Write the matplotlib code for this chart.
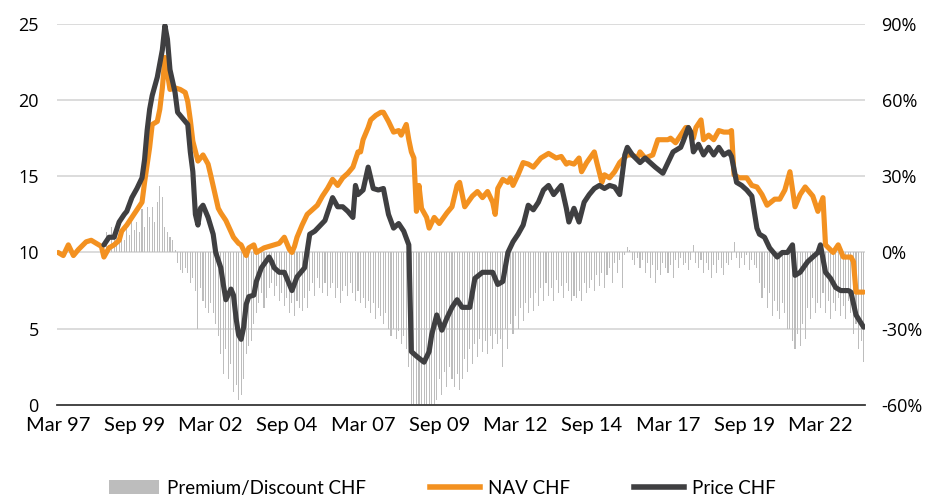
import matplotlib
matplotlib.use("Agg")
import matplotlib.pyplot as plt
from matplotlib.patches import Patch
from matplotlib.lines import Line2D
import numpy as np

# ---------------- data (month offsets from Mar 1997) ----------------
nav_month = [0, 2, 4, 6, 8, 11, 13, 15, 17, 18, 20, 22, 24, 25, 27, 29, 31, 33, 34, 36,
             37, 39, 40, 41, 42, 44, 46, 48, 50, 51, 52, 53, 55, 57, 59, 60, 63, 64, 66, 69,
             71, 72, 74, 75, 77, 78, 80, 81, 83, 85, 87, 89, 91, 92, 93, 94, 96, 98, 100, 102,
             104, 106, 108, 110, 112, 114, 116, 118, 119, 120, 122, 123, 125, 127, 128, 130, 132, 134, 135, 137,
             138, 139, 140, 141, 142, 143, 145, 146, 148, 150, 153, 155, 157, 158, 160, 163, 165, 167, 169, 171,
             172, 173, 175, 177, 178, 179, 181, 183, 185, 187, 190, 192, 193, 196, 198, 200, 201, 203, 205, 206,
             208, 211, 212, 214, 215, 217, 219, 221, 224, 226, 228, 229, 231, 234, 236, 238, 240, 241, 243, 245,
             247, 248, 250, 251, 253, 254, 256, 258, 260, 262, 264, 265, 266, 268, 270, 271, 273, 275, 277, 279,
             282, 284, 286, 288, 290, 292, 294, 297, 299, 301, 302, 305, 307, 309, 312, 313, 314, 317]
nav_chf = [10.0, 9.8, 10.5, 9.8, 10.2, 10.7, 10.8, 10.6, 10.4, 9.7, 10.3, 10.5, 10.8, 11.4, 11.8, 12.3, 12.8, 13.3, 14.6, 16.9,
           18.4, 18.6, 19.4, 20.8, 22.8, 20.7, 20.8, 20.7, 20.5, 19.9, 18.7, 17.3, 16.0, 16.4, 15.8, 15.1, 12.9, 12.6, 12.1, 11.0,
           10.6, 10.5, 9.8, 10.3, 10.5, 10.0, 10.2, 10.3, 10.4, 10.5, 10.6, 11.0, 10.2, 10.0, 10.4, 11.0, 11.8, 12.5, 12.8, 13.1,
           13.7, 14.2, 14.8, 14.4, 14.9, 15.2, 15.6, 16.6, 16.6, 17.4, 18.2, 18.7, 19.0, 19.2, 19.2, 18.6, 17.9, 18.0, 17.7, 18.4,
           17.4, 16.6, 16.2, 12.7, 14.4, 12.9, 12.3, 11.6, 12.3, 11.9, 12.6, 13.0, 14.4, 14.6, 13.0, 13.7, 14.0, 13.6, 14.0, 13.3,
           12.5, 14.2, 14.8, 14.6, 14.9, 14.4, 15.1, 15.9, 15.8, 15.6, 16.2, 16.4, 16.5, 16.2, 16.3, 15.8, 15.9, 15.8, 16.2, 15.3,
           15.9, 16.6, 15.9, 14.6, 15.1, 14.9, 15.3, 15.9, 16.4, 16.4, 16.2, 16.6, 16.2, 16.4, 17.4, 17.4, 17.4, 17.5, 17.2, 17.7,
           18.2, 18.2, 17.5, 18.2, 18.7, 17.4, 17.7, 17.4, 18.0, 17.9, 17.9, 18.0, 15.1, 14.9, 14.9, 14.9, 14.4, 14.3, 13.8, 13.1,
           13.5, 13.5, 14.1, 15.3, 13.0, 13.8, 14.3, 13.7, 12.7, 13.6, 10.5, 10.0, 10.5, 9.7, 9.7, 9.4, 7.4, 7.4]

price_month = [18, 20, 22, 24, 26, 27, 29, 31, 33, 34, 35, 36, 37, 39, 41, 42, 43, 44, 46, 47,
               49, 51, 52, 53, 54, 55, 56, 57, 58, 59, 61, 62, 64, 65, 66, 68, 69, 70, 71, 72,
               73, 74, 75, 77, 78, 80, 83, 84, 85, 87, 89, 92, 94, 97, 99, 101, 105, 107, 108, 110,
               112, 114, 116, 117, 118, 120, 122, 124, 126, 128, 130, 132, 134, 136, 138, 139, 141, 144, 146, 147,
               149, 151, 153, 155, 157, 159, 162, 164, 167, 169, 171, 173, 175, 177, 179, 181, 183, 185, 187, 189,
               191, 193, 195, 196, 198, 200, 201, 203, 205, 207, 209, 211, 213, 215, 217, 219, 221, 223, 224, 226,
               229, 231, 233, 235, 238, 240, 242, 245, 246, 248, 249, 250, 252, 254, 256, 258, 260, 262, 264, 265,
               267, 269, 271, 273, 275, 276, 278, 280, 283, 285, 287, 289, 290, 292, 295, 297, 299, 300, 302, 304,
               306, 308, 311, 312, 314, 317]
price_chf = [10.5, 11.0, 11.0, 12.0, 12.5, 12.7, 13.6, 14.2, 14.9, 16.1, 18.0, 19.4, 20.3, 21.5, 23.3, 24.9, 24.0, 22.0, 20.5, 19.2,
             18.8, 18.4, 16.6, 15.3, 12.5, 11.8, 12.9, 13.1, 12.7, 12.3, 11.2, 10.0, 9.0, 7.9, 6.9, 7.6, 7.2, 5.7, 4.6, 4.3,
             5.1, 6.6, 7.1, 7.2, 8.1, 9.0, 9.7, 9.4, 9.0, 8.7, 8.7, 7.5, 8.4, 9.0, 11.2, 11.4, 12.1, 13.1, 13.6, 13.0,
             13.0, 12.7, 12.3, 14.4, 13.8, 14.1, 15.6, 14.2, 14.1, 14.2, 12.5, 11.6, 11.9, 11.4, 10.5, 3.5, 3.2, 2.8, 3.5, 4.6,
             5.9, 4.9, 5.7, 6.4, 6.9, 6.4, 6.4, 8.3, 8.7, 8.7, 8.7, 7.9, 8.1, 10.0, 10.7, 11.2, 11.8, 13.1, 12.8, 13.3,
             14.1, 14.4, 13.8, 14.0, 14.4, 12.9, 12.0, 12.9, 12.0, 13.3, 13.8, 14.2, 14.4, 14.2, 14.4, 14.3, 13.8, 16.4, 16.9, 16.4,
             15.9, 16.2, 15.9, 15.6, 15.2, 15.9, 16.6, 16.9, 17.3, 18.2, 17.9, 16.6, 17.1, 16.4, 16.9, 16.4, 16.9, 16.4, 16.6, 16.3,
             14.6, 14.4, 14.1, 13.7, 11.6, 11.2, 11.0, 10.3, 9.7, 10.0, 10.0, 10.5, 8.5, 8.7, 9.4, 9.7, 10.0, 10.5, 8.7, 8.3,
             7.7, 7.5, 7.5, 7.4, 5.9, 5.1]

prem_start_month = 18  # premium/discount series starts Sep 1998, monthly
premium_pct = [4, 8, 3, 10, 6, 9,
               6, 9, 5, 11, 7, 15, 9, 12, 8, 17, 10, 18,
               14, 18, 12, 20, 26, 22, 10, 8, 6, 5, 1, -4,
               -7, -8, -6, -8, -12, -10, -15, -30, -14, -19, -22, -24,
               -20, -24, -28, -33, -40, -48, -38, -50, -44, -55, -52, -58,
               -56, -50, -40, -37, -35, -28, -24, -20, -16, -22, -18, -14,
               -12, -17, -13, -19, -16, -21, -18, -24, -20, -25, -19, -22,
               -23, -18, -22, -15, -12, -17, -10, -14, -16, -12, -17, -14,
               -12, -18, -14, -20, -15, -13, -17, -12, -16, -19, -15, -20,
               -18, -22, -19, -24, -20, -26, -22, -25, -28, -24, -30, -33,
               -30, -34, -31, -36, -33, -38, -45, -60, -60, -60, -60, -60,
               -60, -60, -60, -60, -60, -58, -50, -56, -47, -53, -45, -50,
               -53, -48, -54, -50, -42, -47, -38, -44, -36, -41, -34, -39,
               -35, -40, -33, -38, -32, -36, -34, -45, -30, -38, -28, -32,
               -25, -30, -22, -27, -20, -24, -18, -23, -16, -21, -14, -19,
               -12, -17, -14, -19, -11, -16, -13, -18, -12, -15, -19, -17,
               -18, -15, -19, -12, -16, -14, -11, -15, -9, -13, -8, -14,
               -9, -6, -12, -4, -8, -3, -14, -1, 2, 1, -3, -5,
               -2, -6, -3, -8, -4, -10, -5, -12, -7, -9, -4, -6,
               -8, -5, -10, -3, -6, -2, -5, -4, -7, -3, 3, -4,
               -6, -3, -8, -4, -7, -10, -5, -8, -3, -6, -9, -4,
               -5, -3, 4, -2, -6, -2, -5, -1, -7, -3, -5, -6,
               -12, -18, -14, -22, -16, -25, -19, -23, -26, -20, -24, -30,
               -30, -35, -38, -32, -37, -28, -34, -22, -26, -18, -24, -20,
               -22, -16, -24, -19, -26, -20, -23, -18, -25, -21, -26, -19,
               -24, -32, -28, -38, -35, -43]

tick_months = [0, 30, 60, 90, 120, 150, 180, 210, 240, 270, 300]
tick_labels = ["Mar 97", "Sep 99", "Mar 02", "Sep 04", "Mar 07", "Sep 09",
               "Mar 12", "Sep 14", "Mar 17", "Sep 19", "Mar 22"]
left_ticks = [0, 5, 10, 15, 20, 25]
right_ticks = [-60, -30, 0, 30, 60, 90]

# ---------------- styling ----------------
ORANGE = "#F39120"
DARK = "#3F3F41"
BARGRAY = "#BDBDBD"
GRID = "#D9D9D9"
narrow = ["Lato", "DejaVu Sans"]
plain = ["Open Sans", "DejaVu Sans"]

fig = plt.figure(figsize=(9.33, 4.98), dpi=100)
ax2 = fig.add_axes([0.061, 0.187, 0.866, 0.765])   # bars / right axis (behind)
ax = ax2.twinx()                                     # lines / left axis (front)
ax.yaxis.tick_left()
ax2.yaxis.tick_right()

prem_x = np.arange(prem_start_month, prem_start_month + len(premium_pct))
ax2.bar(prem_x, premium_pct, width=0.42, color=BARGRAY, linewidth=0, zorder=2)
ax2.set_ylim(-60, 90)
ax2.set_yticks(right_ticks)
ax2.set_yticklabels([f"{t}%" for t in right_ticks])
for t in right_ticks[1:]:
    ax2.axhline(t, color=GRID, lw=1.3, zorder=1)

ax.plot(nav_month, nav_chf, color=ORANGE, lw=3.7, solid_joinstyle="round",
        solid_capstyle="round", zorder=3)
ax.plot(price_month, price_chf, color=DARK, lw=3.7, solid_joinstyle="round",
        solid_capstyle="round", zorder=4)
ax.set_ylim(0, 25)
ax.set_yticks(left_ticks)
ax.set_yticklabels([str(t) for t in left_ticks])

for a in (ax, ax2):
    a.set_xlim(-0.5, 317.5)
    for s in ("left", "right", "top"):
        a.spines[s].set_visible(False)
    a.spines["bottom"].set_color("#404040")
    a.spines["bottom"].set_linewidth(1.1)
    a.tick_params(axis="y", length=0, labelsize=13, colors="#000000")
ax.tick_params(axis="y", pad=13)
ax2.tick_params(axis="y", pad=12)
for lab in ax.get_yticklabels() + ax2.get_yticklabels():
    lab.set_family(plain)

ax2.set_xticks(tick_months)
ax2.set_xticklabels(tick_labels, fontsize=14.5, family=narrow)
ax2.tick_params(axis="x", length=0, pad=9)
ax.tick_params(axis="x", length=0, labelbottom=False)

ax.set_zorder(ax2.get_zorder() + 1)
ax.patch.set_visible(False)

handles = [Patch(facecolor=BARGRAY, edgecolor="none"),
           Line2D([0], [0], color=ORANGE, lw=4),
           Line2D([0], [0], color=DARK, lw=4)]
fig.legend(handles, ["Premium/Discount CHF", "NAV CHF", "Price CHF"],
           loc="center", bbox_to_anchor=(0.474, 0.02), ncol=3, frameon=False,
           prop={"family": narrow, "size": 13.5}, handlelength=2.7, handleheight=0.8,
           columnspacing=3.4, handletextpad=0.4)

fig.savefig("out.png", dpi=100)
